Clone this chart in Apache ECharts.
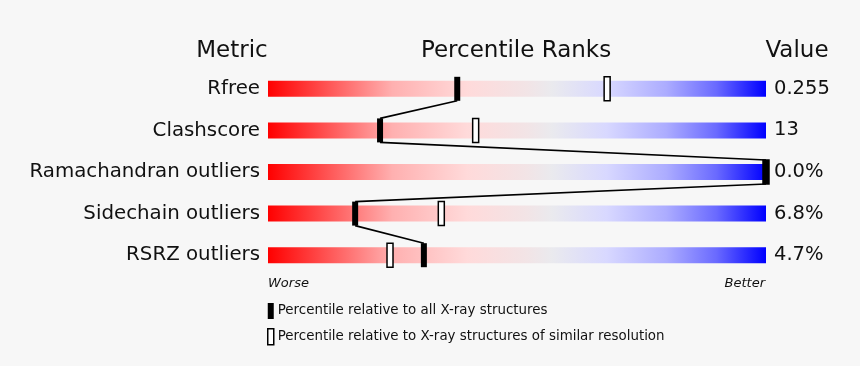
<!DOCTYPE html>
<html><head><meta charset="utf-8">
<script src="https://cdn.jsdelivr.net/npm/echarts@6/dist/echarts.min.js"></script>
<style>html,body{margin:0;padding:0;background:#f7f7f7}#c{width:860px;height:366px}</style>
</head><body><div id="c"></div>
<script>
const metrics = ['Rfree', 'Clashscore', 'Ramachandran outliers', 'Sidechain outliers', 'RSRZ outliers'];
const values = ['0.255', '13', '0.0%', '6.8%', '4.7%'];
const pctAll = [38, 22.5, 100, 17.5, 31.3];
const pctSimilar = [68.1, 41.7, 100, 34.8, 24.5];
const nameAll = 'Percentile relative to all X-ray structures';
const nameSim = 'Percentile relative to X-ray structures of similar resolution';
const FONT = 'DejaVu Sans';

const chart = echarts.init(document.getElementById('c'));
const grad = new echarts.graphic.LinearGradient(0, 0, 1, 0, [
  {offset: 0, color: '#ff0000'},
  {offset: 0.25, color: '#ffb0b0'},
  {offset: 0.4, color: '#ffdada'},
  {offset: 0.52, color: '#f2e4e6'},
  {offset: 0.57, color: '#eaeaee'},
  {offset: 0.68, color: '#d8d8ff'},
  {offset: 0.8, color: '#acacff'},
  {offset: 0.9, color: '#6a6aff'},
  {offset: 1, color: '#0000ff'}
]);
const segs = [];
for (let i = 0; i < pctAll.length - 1; i++) segs.push([pctAll[i], i, pctAll[i + 1], i + 1]);

chart.setOption({
  backgroundColor: '#f7f7f7',
  animation: false,
  grid: {left: 268, right: 94, top: 68, bottom: 90},
  xAxis: {type: 'value', min: 0, max: 100, show: false},
  yAxis: [
    {type: 'category', data: metrics, inverse: true, axisLine: {show: false}, axisTick: {show: false},
     axisLabel: {fontFamily: FONT, fontSize: 19.8, color: '#111', margin: 8, padding: [6, 0, 0, 0]}},
    {type: 'category', data: values, inverse: true, position: 'right', axisLine: {show: false}, axisTick: {show: false},
     axisLabel: {fontFamily: FONT, fontSize: 19.5, color: '#111', margin: 8, padding: [6, 0, 0, 0]}}
  ],
  legend: {
    orient: 'vertical', left: 267, top: 303, padding: 0, itemWidth: 6, itemHeight: 16, itemGap: 9,
    textStyle: {fontFamily: FONT, fontSize: 13.4, color: '#111', padding: [0, 0, 0, -1]},
    data: [
      {name: nameAll, icon: 'rect', itemStyle: {color: '#000'}},
      {name: nameSim, icon: 'rect', itemStyle: {color: '#fff', borderColor: '#000', borderWidth: 1.5}}
    ]
  },
  graphic: [
    {type: 'text', x: 232, y: 51, style: {text: 'Metric', font: '23px "DejaVu Sans"', fill: '#111', textAlign: 'center', textVerticalAlign: 'middle'}},
    {type: 'text', x: 516, y: 51, style: {text: 'Percentile Ranks', font: '23px "DejaVu Sans"', fill: '#111', textAlign: 'center', textVerticalAlign: 'middle'}},
    {type: 'text', x: 797, y: 51, style: {text: 'Value', font: '23px "DejaVu Sans"', fill: '#111', textAlign: 'center', textVerticalAlign: 'middle'}},
    {type: 'text', x: 268, y: 284, style: {text: 'Worse', font: 'italic 13px "DejaVu Sans"', fill: '#111', textAlign: 'left', textVerticalAlign: 'middle'}},
    {type: 'text', x: 765, y: 284, style: {text: 'Better', font: 'italic 13px "DejaVu Sans"', fill: '#111', textAlign: 'right', textVerticalAlign: 'middle'}}
  ],
  series: [
    {type: 'bar', data: metrics.map(() => 100), barWidth: 16, itemStyle: {color: grad}, silent: true},
    {type: 'custom', name: nameSim, data: pctSimilar.map((v, i) => [v, i]), encode: {x: 0, y: 1}, z: 3,
     renderItem: (params, api) => {
       const p = api.coord([api.value(0), api.value(1)]);
       return {type: 'rect', shape: {x: p[0] - 3, y: p[1] - 12, width: 6, height: 24},
               style: {fill: '#fff', stroke: '#000', lineWidth: 1.5}};
     }},
    {type: 'custom', data: segs, encode: {x: [0, 2], y: [1, 3]}, z: 4,
     renderItem: (params, api) => {
       const a = api.coord([api.value(0), api.value(1)]);
       const b = api.coord([api.value(2), api.value(3)]);
       return {type: 'line', shape: {x1: a[0], y1: a[1] + 12, x2: b[0], y2: b[1] - 12},
               style: {stroke: '#000', lineWidth: 1.6}};
     }},
    {type: 'custom', name: nameAll, data: pctAll.map((v, i) => [v, i]), encode: {x: 0, y: 1}, z: 5,
     renderItem: (params, api) => {
       const p = api.coord([api.value(0), api.value(1)]);
       return {type: 'rect', shape: {x: p[0] - 3, y: p[1] - 12, width: 6, height: 24},
               style: {fill: '#000'}};
     }}
  ]
});
</script></body></html>
